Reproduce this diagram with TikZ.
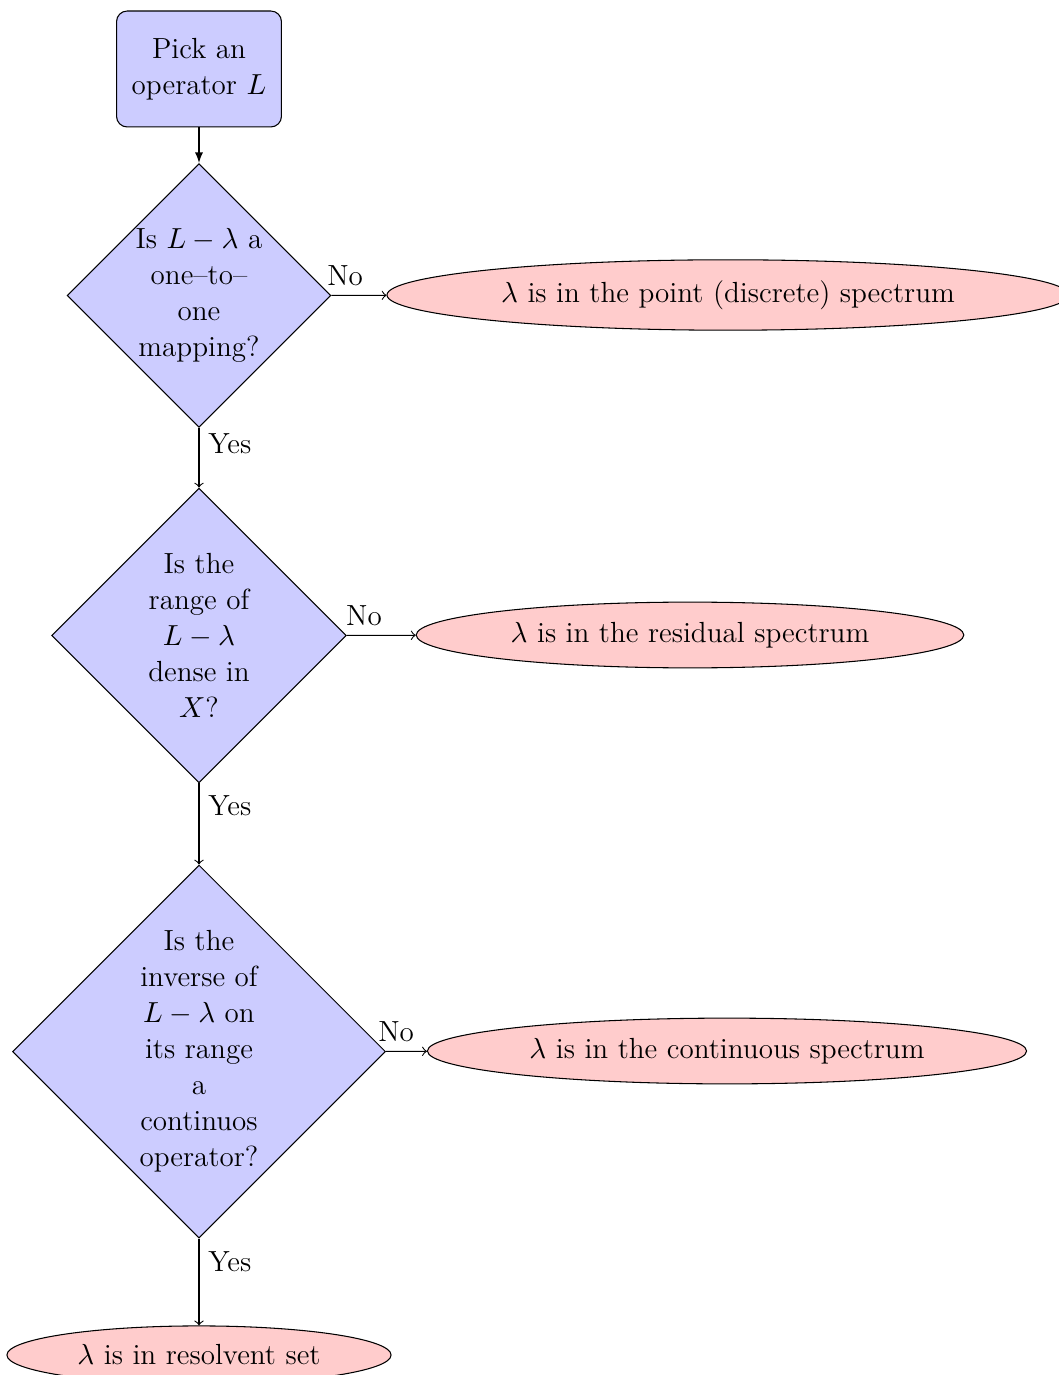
\documentclass[tikz,border=0pt]{standalone}
\usetikzlibrary{shapes.geometric,arrows}
\begin{document}
\begin{tikzpicture}[x=0.3778pt,y=-0.3778pt,
  every node/.style={font=\fontsize{11}{13.6}\selectfont},
  startbox/.style={draw, rounded corners=4pt, fill=blue!20, align=center, minimum width=62.3pt, minimum height=43.8pt, inner sep=2pt},
  decision/.style={draw, diamond, aspect=1, fill=blue!20, align=center, inner sep=0pt},
  outcome/.style={draw, ellipse, fill=red!20, inner xsep=5.4pt, inner ysep=3.9pt},
  yeslbl/.style={right, pos=0.27},
  nolbl/.style={above, pos=0.25}]
\useasboundingbox (0,0) rectangle (1058,1375);
\node[startbox] (start) at (199,69) {Pick an\\operator $L$};
\node[decision, minimum width=99.7pt, minimum height=99.7pt] (d1) at (199,295.5) {Is $L-\lambda$ a\\one--to--\\one\\mapping?};
\node[decision, minimum width=111.4pt, minimum height=111.4pt] (d2) at (199,635.5) {Is the\\range of\\$L-\lambda$\\dense in\\$X$?};
\node[decision, minimum width=140.9pt, minimum height=140.9pt] (d3) at (199,1051.5) {Is the\\inverse of\\$L-\lambda$ on\\its range\\a\\continuos\\operator?};
\node[outcome] (e1) at (728,295) {$\lambda$ is in the point (discrete) spectrum};
\node[outcome] (e2) at (690,635) {$\lambda$ is in the residual spectrum};
\node[outcome] (e3) at (727,1051) {$\lambda$ is in the continuous spectrum};
\node[outcome] (e4) at (199,1355) {$\lambda$ is in resolvent set};
\draw[-latex] (start) -- (d1);
\draw[->] (d1) -- node[yeslbl] {Yes} (d2);
\draw[->] (d2) -- node[yeslbl] {Yes} (d3);
\draw[->] (d3) -- node[yeslbl] {Yes} (e4);
\draw[->] (d1) -- node[nolbl] {No} (e1);
\draw[->] (d2) -- node[nolbl] {No} (e2);
\draw[->] (d3) -- node[nolbl] {No} (e3);
\end{tikzpicture}
\end{document}
